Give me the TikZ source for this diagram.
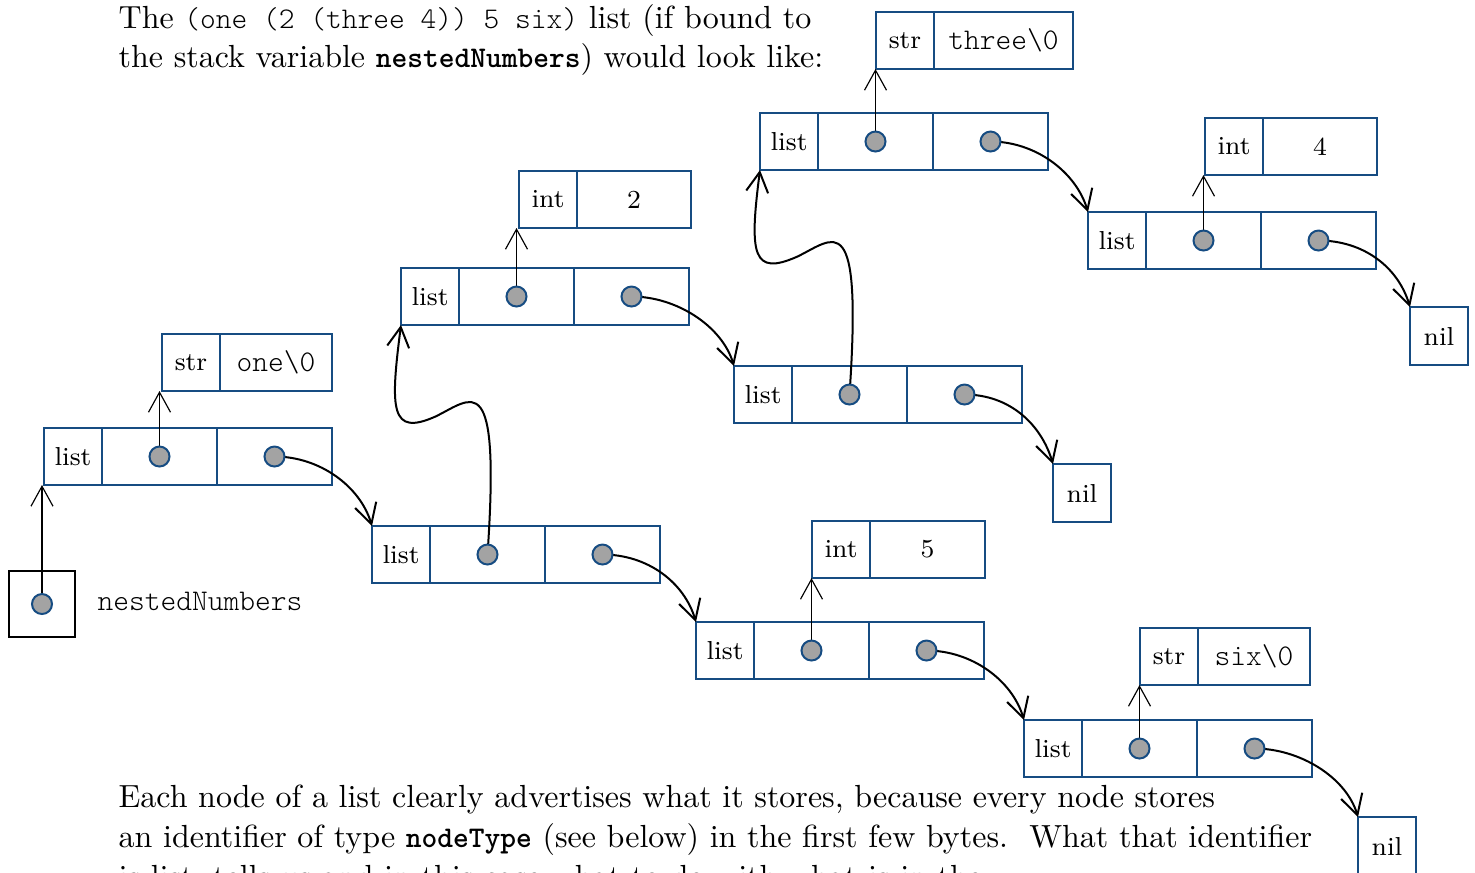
\documentclass[tikz,border=0pt]{standalone}
\usepackage{fontspec}
\setmonofont{lmmonolt10-regular.otf}[BoldFont=lmmonolt10-bold.otf]
\usetikzlibrary{arrows.meta,calc}
\definecolor{boxblue}{RGB}{22,76,130}
\definecolor{dotgray}{RGB}{163,163,163}
\pgfdeclarelayer{fg}
\pgfsetlayers{main,fg}
\newcommand\lblfont{\fontsize{7.8}{9}\selectfont}
\newcommand\bodyfont{\fontsize{9.6}{12}\selectfont}
\newcommand\mymono[1]{{\fontsize{9}{10}\selectfont\ttfamily #1}}
\newcommand\mybmono[1]{{\fontsize{9}{10}\selectfont\ttfamily\bfseries #1}}
\tikzset{
  cell/.style={draw=boxblue, line width=0.6pt, minimum height=17.1pt, inner sep=0pt, outer sep=0pt, anchor=north west, font=\lblfont},
  dotnode/.style={circle, draw=boxblue, fill=dotgray, line width=0.6pt, minimum size=6pt, inner sep=0pt},
  ptr/.style={line width=0.35pt, -{Straight Barb[length=6pt,width=6.6pt]}},
  lnk/.style={line width=0.6pt, -{Straight Barb[length=6pt,width=6.6pt]}},
  txt/.style={anchor=base west, inner sep=0pt, font=\bodyfont}
}
% name, x, y (top-left in px)
\newcommand\mklist[3]{%
  \node[cell, minimum width=17.4pt] (#1t) at (#2,#3) {list};
  \node[cell, minimum width=34.5pt] (#1a) at (#1t.north east) {};
  \node[cell, minimum width=34.5pt] (#1b) at (#1a.north east) {};
  \begin{pgfonlayer}{fg}
    \node[dotnode] (#1da) at (#1a.center) {};
    \node[dotnode] (#1db) at (#1b.center) {};
  \end{pgfonlayer}}
% name, x, y, type, value, value width (px)
\newcommand\mkval[6]{%
  \node[cell, minimum width=17.4pt] (#1t) at (#2,#3) {#4};
  \node[cell, minimum width=#6*0.3pt] (#1v) at (#1t.north east) {#5};}
\begin{document}
\begin{tikzpicture}[x=0.3pt,y=-0.3pt]
\useasboundingbox (0,0) rectangle (1475,872);

% text
\node[txt] (h1) at (118,28) {The \mymono{(one (2 (three 4)) 5 six)} list (if bound to};
\node[txt] (h2) at (118,67) {the stack variable \mybmono{nestedNumbers}) would look like:};
\node[txt] (b1) at (118,807) {Each node of a list clearly advertises what it stores, because every node stores};
\node[txt] (b2) at (118,847) {an identifier of type \mybmono{nodeType} (see below) in the first few bytes.\ \ What that identifier};
\node[txt] (b3) at (118,887) {is list, tells us and in this case what to do with what is in the};

% stack variable
\node[draw, line width=0.6pt, minimum size=19.8pt, anchor=north west, inner sep=0pt, outer sep=0pt] (nn) at (9,571) {};
\begin{pgfonlayer}{fg}
\node[dotnode] (nnd) at (nn.center) {};
\end{pgfonlayer}
\node[anchor=base west, inner sep=0pt] (nnl) at (97,610) {\mymono{nestedNumbers}};

% list nodes
\mklist{la}{44}{428}
\mklist{lb}{372}{526}
\mklist{lc}{401}{268}
\mklist{ld}{734}{366}
\mklist{le}{760}{113}
\mklist{lf}{1088}{212}
\mklist{lg}{696}{622}
\mklist{lh}{1024}{720}

% value nodes
\mkval{va}{162}{334}{str}{\mymono{one\textbackslash0}}{112}
\mkval{vc}{519}{171}{int}{2}{114}
\mkval{ve}{876}{12}{str}{\mymono{three\textbackslash0}}{139}
\mkval{vf}{1205}{118}{int}{4}{114}
\mkval{vg}{812}{521}{int}{5}{115}
\mkval{vh}{1140}{628}{str}{\mymono{six\textbackslash0}}{112}

% nils
\node[cell, minimum width=17.4pt, minimum height=17.4pt] (nf) at (1410,307) {nil};
\node[cell, minimum width=17.4pt, minimum height=17.4pt] (nd) at (1053,464) {nil};
\node[cell, minimum width=17.4pt, minimum height=17.4pt] (nh) at (1358,817) {nil};

% value pointers
\draw[ptr] (nnd.center) -- (nnd.center |- lat.south);
\draw[ptr] (lada.center) -- (lada.center |- vat.south);
\draw[ptr] (lcda.center) -- (lcda.center |- vct.south);
\draw[ptr] (leda.center) -- (leda.center |- vet.south);
\draw[ptr] (lfda.center) -- (lfda.center |- vft.south);
\draw[ptr] (lgda.center) -- (lgda.center |- vgt.south);
\draw[ptr] (lhda.center) -- (lhda.center |- vht.south);

% next pointers
\draw[lnk] (ladb.center) .. controls +(45,0) and +(-12,-40) .. (lbt.north west);
\draw[lnk] (lcdb.center) .. controls +(45,0) and +(-12,-40) .. (ldt.north west);
\draw[lnk] (ledb.center) .. controls +(45,0) and +(-12,-40) .. (lft.north west);
\draw[lnk] (lfdb.center) .. controls +(45,0) and +(-12,-40) .. (nf.north west);
\draw[lnk] (lddb.center) .. controls +(45,0) and +(-12,-40) .. (nd.north west);
\draw[lnk] (lbdb.center) .. controls +(45,0) and +(-12,-40) .. (lgt.north west);
\draw[lnk] (lgdb.center) .. controls +(45,0) and +(-12,-40) .. (lht.north west);
\draw[lnk] (lhdb.center) .. controls +(45,0) and +(-12,-40) .. (nh.north west);

% nested list pointers
\coordinate (wa) at ($(lbda)+(-52,-138)$);
\draw[lnk] (lbda.center) .. controls +(13,-190) and +(37,-18) .. (wa) .. controls +(-45,20) and +(-11,85) .. (lct.south west);
\coordinate (wb) at ($(ldda)+(-52,-138)$);
\draw[lnk] (ldda.center) .. controls +(13,-190) and +(37,-18) .. (wb) .. controls +(-45,20) and +(-11,85) .. (let.south west);
\end{tikzpicture}
\end{document}
